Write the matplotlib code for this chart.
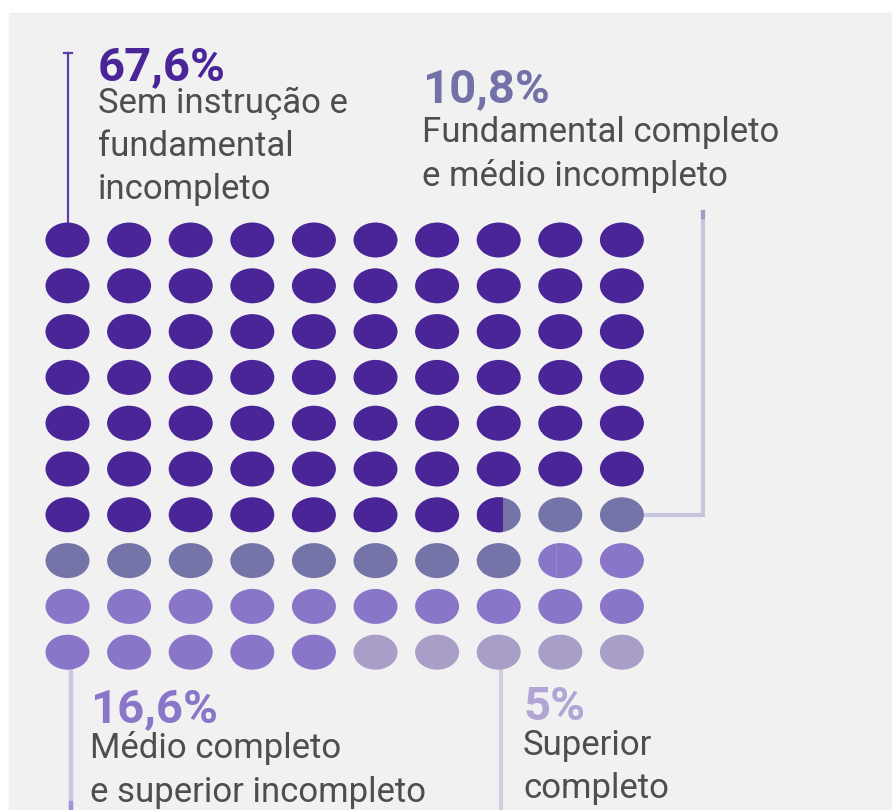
import matplotlib
matplotlib.use("Agg")
import matplotlib.pyplot as plt
from matplotlib.patches import Ellipse, Rectangle
import numpy as np

# share of population by schooling level (%)
shares = [67.6, 10.8, 16.6, 5.0]
pct_labels = ["67,6%", "10,8%", "16,6%", "5%"]
descriptions = [
    ["Sem instrução e", "fundamental", "incompleto"],
    ["Fundamental completo", "e médio incompleto"],
    ["Médio completo", "e superior incompleto"],
    ["Superior", "completo"],
]

dot_colors = ["#4a2597", "#7474a8", "#8a76c8", "#a99ec8"]
pct_colors = ["#4a2597", "#7272a8", "#8a76c8", "#b0a5d5"]
text_color = "#4e4e4e"

# layout (pixels, y downwards)
W, H = 892, 810
x0, dx = 67.5, 61.6
y0, dy = 240.0, 45.8
ew, eh = 44, 35
# label anchors: x, baseline of percentage, baselines of description lines
label_x = [98, 422, 90, 523]
pct_base = [80, 102, 722, 720]
line_base = [[113, 156, 199], [142, 186], [758, 802], [755, 798]]

fig = plt.figure(figsize=(W / 100, H / 100), dpi=100)
fig.patch.set_facecolor("white")
ax = fig.add_axes([0, 0, 1, 1])
ax.set_xlim(0, W)
ax.set_ylim(H, 0)
ax.axis("off")

ax.add_patch(Rectangle((9, 13), W - 9, H - 13, color="#f1f1f1", zorder=0))

bounds = np.concatenate([[0], np.cumsum(shares)])

def cell_xy(i):
    return x0 + (i % 10) * dx, y0 + (i // 10) * dy

for i in range(100):
    cx, cy = cell_xy(i)
    # category that fills the right end of the cell
    k = np.searchsorted(bounds, i + 1, side="left") - 1
    k = min(max(k, 0), len(shares) - 1)
    ax.add_patch(Ellipse((cx, cy), ew, eh, color=dot_colors[k], lw=0, zorder=2))
    # split cell where the first category ends
    b = bounds[1]
    if i < b < i + 1:
        frac = b - i
        left = cx - ew / 2
        e2 = Ellipse((cx, cy), ew, eh, color=dot_colors[0], lw=0, zorder=3)
        ax.add_patch(e2)
        clip = Rectangle((left, cy - eh), ew * frac, 2 * eh, transform=ax.transData)
        e2.set_clip_path(clip)
    b = bounds[2]
    if i < b < i + 1:
        xs = cx - ew / 2 + ew * (b - i)
        ax.plot([xs, xs], [cy - eh / 2 + 1, cy + eh / 2 - 1], color="#9886d0", lw=0.8, zorder=3)

# connectors
cx, cy = cell_xy(0)
ax.plot([cx, cx], [53, cy - eh / 2], color="#5e3fa8", lw=1.6, zorder=1)
ax.plot([cx - 4, cx + 4], [53, 53], color="#5e3fa8", lw=1.6, zorder=1)

cx, cy = cell_xy(69)
ax.plot([cx + ew / 2, 703, 703], [cy, cy, 214], color="#c6c6dd", lw=3, zorder=1,
        solid_joinstyle="miter")
ax.plot([703, 703], [212, 217], color="#9c9cc9", lw=3, zorder=1)

cx, cy = cell_xy(90)
ax.plot([cx + 3, cx + 3], [cy + eh / 2, H], color="#cdc6e6", lw=3.2, zorder=1)
ax.plot([cx + 3, cx + 3], [803, H], color="#a293d6", lw=3.2, zorder=1)

cx, cy = cell_xy(97)
ax.plot([cx + 2, cx + 2], [cy + eh / 2, H], color="#d2cde6", lw=3, zorder=1)

# labels
for k in range(len(shares)):
    ax.text(label_x[k], pct_base[k], pct_labels[k], family="Roboto", weight="bold",
            fontsize=34, color=pct_colors[k], va="baseline", ha="left")
    for line, yb in zip(descriptions[k], line_base[k]):
        ax.text(label_x[k], yb, line, family="Roboto", fontsize=25,
                color=text_color, va="baseline", ha="left")

fig.savefig("out.png", dpi=100, facecolor=fig.get_facecolor())
